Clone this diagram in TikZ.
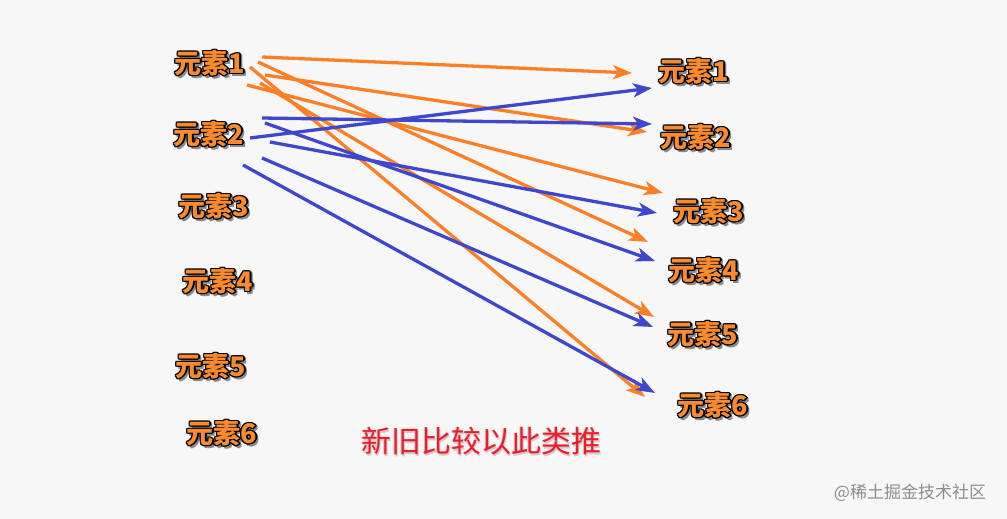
\documentclass[tikz,border=0pt]{standalone}
\usepackage{fontspec}
\usetikzlibrary{arrows.meta}
\newfontfamily\cjk{Noto Sans CJK SC}
\definecolor{bgc}{HTML}{F7F7F7}
\definecolor{orarr}{HTML}{FF7F27}
\definecolor{blarr}{HTML}{3F48CC}
\definecolor{txtor}{HTML}{F98B2E}
\definecolor{shad}{HTML}{8A8A8A}
\definecolor{redt}{HTML}{EC1C2C}
\definecolor{redsh}{HTML}{D8C8C8}
\newcommand\shcopy[3]{\rlap{\kern#1\raisebox{#2}{#3}}}
\newcommand\olab[1]{{\cjk\bfseries\fontsize{27pt}{27pt}\selectfont
  \color{shad}\shcopy{2.2pt}{-2.2pt}{#1}\shcopy{3pt}{-3pt}{#1}\shcopy{1.5pt}{-3pt}{#1}\shcopy{3pt}{-1.5pt}{#1}%
  \color{black}\shcopy{1.3pt}{0pt}{#1}\shcopy{-1.3pt}{0pt}{#1}\shcopy{0pt}{1.3pt}{#1}\shcopy{0pt}{-1.3pt}{#1}%
  \shcopy{.9pt}{.9pt}{#1}\shcopy{-.9pt}{.9pt}{#1}\shcopy{.9pt}{-.9pt}{#1}\shcopy{-.9pt}{-.9pt}{#1}%
  \color{txtor}#1}}
\newcommand\redlab[1]{{\cjk\fontsize{30pt}{30pt}\selectfont
  \color{redsh}\shcopy{1.6pt}{-1.6pt}{#1}\shcopy{-.6pt}{.6pt}{#1}%
  \color{redt}#1}}
\tikzset{
  elem/.style={inner sep=0pt, anchor=center},
  oarr/.style={draw=orarr, line width=3.3pt, -{Stealth[length=19pt,width=14pt,inset=5pt]}},
  barr/.style={draw=blarr, line width=3.3pt, -{Stealth[length=19pt,width=14pt,inset=5pt]}},
}
\begin{document}
\begin{tikzpicture}[x=1pt,y=-1pt]
\fill[bgc] (0,0) rectangle (1007,519);
\useasboundingbox (0,0) rectangle (1007,519);
% left column
\node[elem] (L1) at (210,64) {\olab{元素1}};
\node[elem] (L2) at (209,135) {\olab{元素2}};
\node[elem] (L3) at (214,207) {\olab{元素3}};
\node[elem] (L4) at (218,282) {\olab{元素4}};
\node[elem] (L5) at (211,367) {\olab{元素5}};
\node[elem] (L6) at (222,434) {\olab{元素6}};
% right column
\node[elem] (R1) at (694,72) {\olab{元素1}};
\node[elem] (R2) at (696,138) {\olab{元素2}};
\node[elem] (R3) at (709,212) {\olab{元素3}};
\node[elem] (R4) at (704,271) {\olab{元素4}};
\node[elem] (R5) at (703,335) {\olab{元素5}};
\node[elem] (R6) at (713,406) {\olab{元素6}};
% caption
\node[elem] (cap) at (481,442) {\redlab{新旧比较以此类推}};
% watermark
\node[elem, text=black!45] (wm) at (910,493) {\cjk\fontsize{17pt}{17pt}\selectfont @稀土掘金技术社区};
% orange arrows from L1
\draw[oarr] ([shift={(52,-7)}]L1.center) -- ([shift={(-62,1)}]R1.center);
\draw[oarr] ([shift={(55,11)}]L1.center) -- ([shift={(-49,-6)}]R2.center);
\draw[oarr] ([shift={(37,21)}]L1.center) -- ([shift={(-46,-19)}]R3.center);
\draw[oarr] ([shift={(48,-2)}]L1.center) -- ([shift={(-56,-29)}]R4.center);
\draw[oarr] ([shift={(50,19)}]L1.center) -- ([shift={(-49,-18)}]R5.center);
\draw[oarr] ([shift={(40,3)}]L1.center) -- ([shift={(-68,-9)}]R6.center);
% blue arrows from L2
\draw[barr] ([shift={(41,3)}]L2.center) -- ([shift={(-42,16)}]R1.center);
\draw[barr] ([shift={(53,-17)}]L2.center) -- ([shift={(-44,-14)}]R2.center);
\draw[barr] ([shift={(61,7)}]L2.center) -- ([shift={(-52,1)}]R3.center);
\draw[barr] ([shift={(56,-12)}]L2.center) -- ([shift={(-49,-10)}]R4.center);
\draw[barr] ([shift={(53,23)}]L2.center) -- ([shift={(-50,-8)}]R5.center);
\draw[barr] ([shift={(34,30)}]L2.center) -- ([shift={(-58,-13)}]R6.center);
\end{tikzpicture}
\end{document}
